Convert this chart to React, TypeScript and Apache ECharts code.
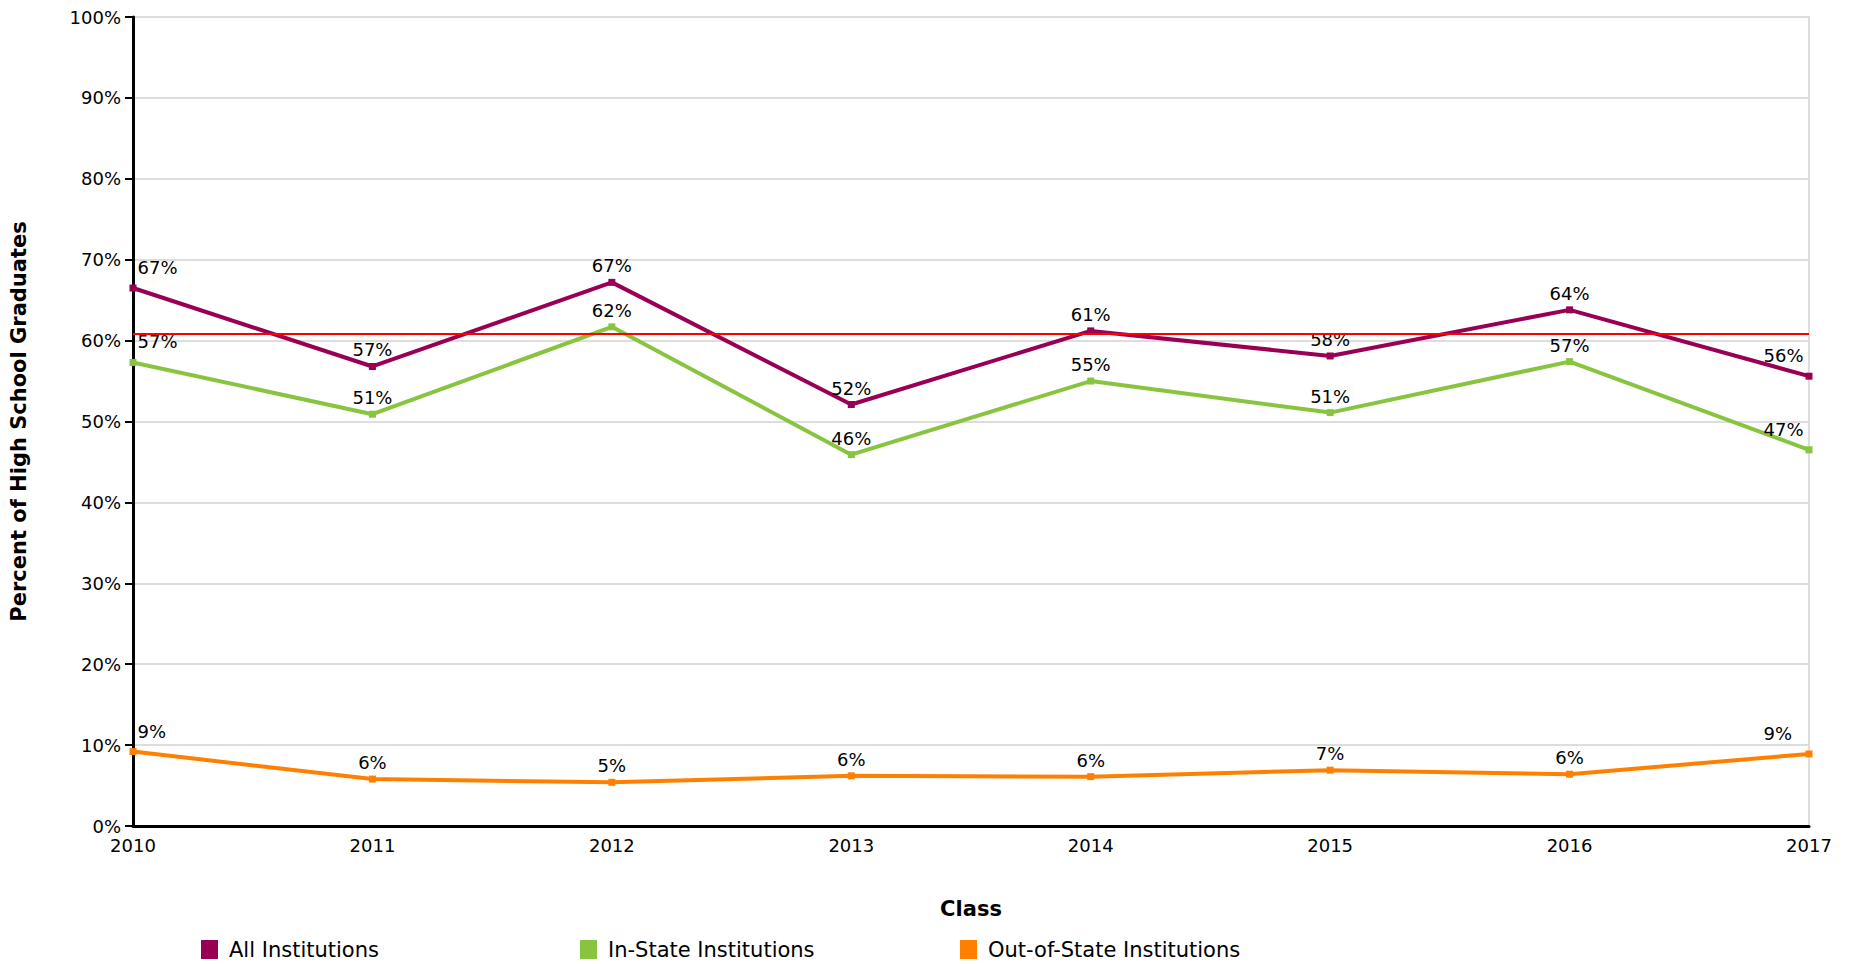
import * as echarts from "echarts";
import { useEffect, useRef } from "react";

const years = ["2010", "2011", "2012", "2013", "2014", "2015", "2016", "2017"];
const allInstitutions = [66.5, 56.8, 67.2, 52.1, 61.2, 58.1, 63.8, 55.6];
const inState = [57.3, 50.9, 61.7, 45.9, 55.0, 51.1, 57.4, 46.5];
const outOfState = [9.2, 5.8, 5.4, 6.2, 6.1, 6.9, 6.4, 8.9];
const referenceLine = 60.8;

const font = "DejaVu Sans";

function makeSeries(name: string, data: number[], color: string, extra: any = {}) {
  return {
    name,
    type: "line",
    data: data.map((v, i) => ({
      value: v,
      label: {
        position: i === 0 ? [8, -26] : i === data.length - 1 ? [-42, -26] : "top",
      },
    })),
    symbol: "rect",
    symbolSize: 7,
    itemStyle: { color },
    lineStyle: { color, width: 4 },
    label: {
      show: true,
      color: "#000",
      fontFamily: font,
      fontSize: 18,
      distance: 4,
      formatter: (p: any) => `${Math.round(p.value)}%`,
    },
    ...extra,
  };
}

export default function App() {
  const ref = useRef<HTMLDivElement | null>(null);

  useEffect(() => {
    document.body.style.margin = "0";
    if (!ref.current) return;
    const chart = echarts.init(ref.current, undefined, { renderer: "svg" });
    const legendBase = {
      top: 934,
      itemWidth: 17,
      itemHeight: 19,
      icon: "rect",
      textStyle: { fontFamily: font, fontSize: 21, color: "#000", padding: [0, 0, 0, 6] },
    };
    chart.setOption({
      animation: false,
      textStyle: { fontFamily: font },
      grid: { left: 128, right: 49, top: 17, bottom: 138, show: true, borderColor: "#dddddd", borderWidth: 2 },
      legend: [
        { ...legendBase, left: 196, data: ["All Institutions"] },
        { ...legendBase, left: 575, data: ["In-State Institutions"] },
        { ...legendBase, left: 955, data: ["Out-of-State Institutions"] },
      ],
      xAxis: {
        type: "category",
        data: years,
        boundaryGap: false,
        name: "Class",
        nameLocation: "middle",
        nameGap: 72,
        nameTextStyle: { fontFamily: font, fontSize: 21, fontWeight: "bold", color: "#000" },
        axisLine: { lineStyle: { color: "#000", width: 3 } },
        axisTick: { show: false },
        axisLabel: { color: "#000", fontSize: 18, fontFamily: font, margin: 10 },
        splitLine: { show: false },
      },
      yAxis: {
        type: "value",
        min: 0,
        max: 100,
        interval: 10,
        name: "Percent of High School Graduates",
        nameLocation: "middle",
        nameGap: 104,
        nameTextStyle: { fontFamily: font, fontSize: 21, fontWeight: "bold", color: "#000" },
        axisLine: { show: true, lineStyle: { color: "#000", width: 3 } },
        axisTick: { show: true, length: 8, lineStyle: { color: "#000", width: 2 } },
        axisLabel: { color: "#000", fontSize: 18, fontFamily: font, formatter: "{value}%", margin: 12 },
        splitLine: { lineStyle: { color: "#dddddd", width: 2 } },
      },
      series: [
        makeSeries("All Institutions", allInstitutions, "#990055", {
          markLine: {
            silent: true,
            symbol: "none",
            label: { show: false },
            lineStyle: { color: "#ff0000", width: 2, type: "solid" },
            data: [{ yAxis: referenceLine }],
          },
        }),
        makeSeries("In-State Institutions", inState, "#88c440"),
        makeSeries("Out-of-State Institutions", outOfState, "#ff8000"),
      ],
    });
    return () => chart.dispose();
  }, []);

  return <div ref={ref} style={{ width: 1858, height: 964 }} />;
}
